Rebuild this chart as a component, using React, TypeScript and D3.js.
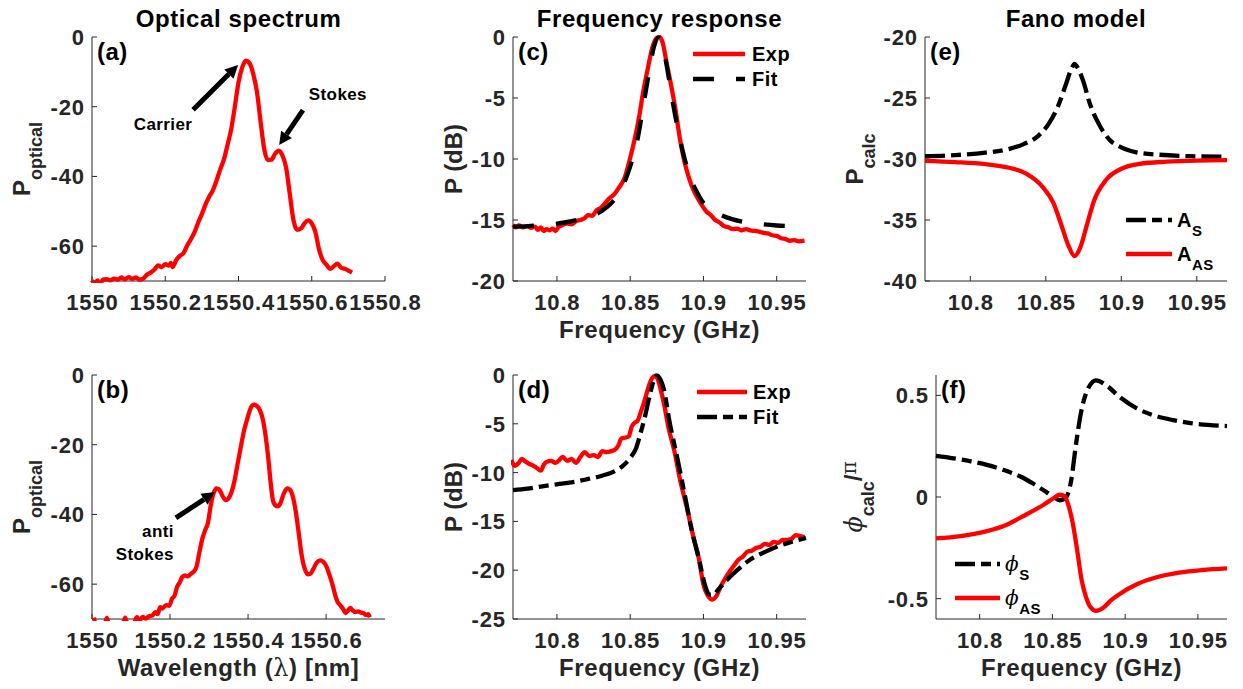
import React from "react";
import * as d3 from "d3";

type Pt = [number, number];

// ---------------- data ----------------
const opticalA: Pt[] = [
  [1550.0, -69.8], [1550.008, -70.8], [1550.015, -69.8], [1550.022, -71], [1550.03, -69.6], [1550.04, -69.5],
  [1550.05, -69.8], [1550.06, -69.3], [1550.07, -69.6], [1550.08, -69.0], [1550.09, -69.5], [1550.1, -68.9],
  [1550.11, -69.4], [1550.12, -69.0], [1550.13, -69.6], [1550.14, -69.3], [1550.15, -68.2], [1550.16, -67.6],
  [1550.17, -66.8], [1550.18, -65.5], [1550.19, -66.0], [1550.2, -65.2], [1550.21, -65.6], [1550.215, -64.8],
  [1550.22, -66.0], [1550.23, -64.0], [1550.24, -62.8], [1550.25, -62.0], [1550.26, -59.8], [1550.27, -58.0],
  [1550.28, -56.0], [1550.29, -53.2], [1550.3, -50.8], [1550.31, -48.0], [1550.32, -45.8], [1550.33, -44.0],
  [1550.34, -41.2], [1550.35, -38.0], [1550.36, -35.2], [1550.37, -31.0], [1550.38, -26.5], [1550.39, -20.0],
  [1550.4, -13.0], [1550.41, -8.8], [1550.42, -6.8], [1550.43, -7.5], [1550.44, -10.5], [1550.45, -15.5],
  [1550.46, -24.0], [1550.47, -32.0], [1550.48, -35.3], [1550.49, -35.2], [1550.5, -33.5], [1550.51, -32.6],
  [1550.52, -34.0], [1550.53, -37.5], [1550.54, -45.0], [1550.55, -52.5], [1550.56, -55.3], [1550.57, -55.0],
  [1550.58, -53.5], [1550.59, -52.6], [1550.6, -53.5], [1550.61, -56.0], [1550.62, -61.0], [1550.63, -64.0],
  [1550.64, -65.3], [1550.65, -66.5], [1550.66, -65.8], [1550.67, -65.0], [1550.68, -66.2], [1550.69, -66.5],
  [1550.7, -67.0], [1550.71, -67.6],
];

const opticalB: Pt[] = [
  [1550.005, -69.6], [1550.012, -72.5], [1550.03, -72.5], [1550.038, -69.7], [1550.046, -72.5], [1550.075, -72.5],
  [1550.085, -69.6], [1550.092, -72], [1550.108, -71], [1550.115, -69.5], [1550.122, -70.3], [1550.13, -69.4],
  [1550.138, -69.9], [1550.146, -69.2], [1550.155, -69.0], [1550.162, -68.0], [1550.168, -68.6], [1550.175, -66.6],
  [1550.18, -67.0], [1550.19, -66.0], [1550.198, -66.2], [1550.205, -64.2], [1550.212, -63.2], [1550.218, -60.8],
  [1550.225, -59.5], [1550.231, -58.0], [1550.238, -57.5], [1550.245, -57.8], [1550.252, -57.2], [1550.26, -56.5],
  [1550.268, -55.0], [1550.275, -51.0], [1550.282, -47.3], [1550.29, -44.5], [1550.297, -42.5], [1550.305, -37.0],
  [1550.312, -33.8], [1550.319, -32.5], [1550.327, -33.0], [1550.335, -34.8], [1550.343, -35.9], [1550.35, -35.4],
  [1550.357, -33.8], [1550.365, -30.5], [1550.372, -26.2], [1550.38, -21.5], [1550.39, -15.8], [1550.4, -11.8],
  [1550.408, -9.2], [1550.415, -8.5], [1550.422, -8.8], [1550.43, -10.0], [1550.438, -12.8], [1550.445, -17.5],
  [1550.452, -24.0], [1550.458, -31.0], [1550.465, -36.5], [1550.475, -37.7], [1550.483, -36.8], [1550.49, -34.5],
  [1550.5, -32.5], [1550.508, -33.0], [1550.515, -35.0], [1550.522, -39.0], [1550.53, -45.5], [1550.537, -51.5],
  [1550.545, -55.5], [1550.553, -57.2], [1550.56, -57.0], [1550.568, -55.5], [1550.576, -53.8], [1550.585, -53.2],
  [1550.593, -53.6], [1550.601, -55.0], [1550.609, -57.5], [1550.616, -60.0], [1550.623, -63.0], [1550.629, -65.0],
  [1550.636, -66.0], [1550.644, -67.2], [1550.65, -68.3], [1550.656, -67.6], [1550.662, -66.8], [1550.668, -67.5],
  [1550.675, -68.0], [1550.682, -67.8], [1550.69, -68.2], [1550.697, -68.4], [1550.703, -68.9], [1550.708, -68.6],
  [1550.712, -69.5],
];

const expC: Pt[] = [
  [10.77, -15.4], [10.772, -15.6], [10.774, -15.45], [10.777, -15.6], [10.78, -15.5], [10.782, -15.65],
  [10.785, -15.55], [10.787, -15.8], [10.789, -15.6], [10.791, -15.9], [10.793, -15.75], [10.795, -15.85],
  [10.797, -15.7], [10.799, -15.9], [10.801, -15.6], [10.804, -15.4], [10.807, -15.3], [10.81, -15.35],
  [10.813, -15.1], [10.816, -15.0], [10.819, -14.85], [10.821, -14.6], [10.824, -14.65], [10.827, -14.2],
  [10.83, -14.0], [10.833, -13.6], [10.836, -13.2], [10.839, -12.9], [10.842, -12.4], [10.846, -11.6],
  [10.85, -9.9], [10.853, -8.4], [10.856, -6.6], [10.859, -4.4], [10.862, -2.6], [10.865, -0.9],
  [10.868, -0.1], [10.87, 0], [10.872, -0.4], [10.875, -2.2], [10.878, -4.0], [10.881, -6.0],
  [10.884, -8.4], [10.887, -10.2], [10.89, -11.5], [10.893, -12.5], [10.896, -13.2], [10.899, -13.8],
  [10.902, -14.3], [10.905, -14.6], [10.908, -15.0], [10.911, -15.2], [10.914, -15.5], [10.917, -15.6],
  [10.92, -15.75], [10.923, -15.7], [10.926, -15.85], [10.929, -15.75], [10.932, -15.85], [10.935, -15.9],
  [10.938, -15.95], [10.941, -16.05], [10.944, -16.1], [10.947, -16.25], [10.95, -16.3], [10.953, -16.5],
  [10.956, -16.55], [10.959, -16.7], [10.962, -16.65], [10.965, -16.75], [10.969, -16.7],
];

const fitC: Pt[] = [
  [10.77, -15.55], [10.78, -15.5], [10.79, -15.4], [10.8, -15.3], [10.81, -15.1], [10.82, -14.8],
  [10.83, -14.3], [10.838, -13.5], [10.845, -12.2], [10.85, -10.6], [10.855, -8.4], [10.859, -5.6],
  [10.863, -2.8], [10.866, -0.9], [10.869, -0.05], [10.872, -0.6], [10.875, -2.4], [10.879, -5.3],
  [10.883, -7.8], [10.887, -9.9], [10.891, -11.5], [10.896, -12.8], [10.9, -13.6], [10.905, -14.1],
  [10.912, -14.6], [10.92, -14.95], [10.93, -15.2], [10.94, -15.35], [10.95, -15.45], [10.96, -15.5],
  [10.97, -15.55],
];

const expD: Pt[] = [
  [10.769, -8.7], [10.771, -9.3], [10.774, -9.0], [10.776, -8.6], [10.778, -8.8], [10.781, -9.1],
  [10.784, -9.3], [10.786, -9.5], [10.789, -9.8], [10.791, -9.2], [10.793, -8.9], [10.796, -8.8],
  [10.799, -9.0], [10.801, -8.8], [10.804, -8.4], [10.807, -8.8], [10.81, -8.6], [10.813, -9.0],
  [10.816, -8.4], [10.819, -7.9], [10.822, -8.3], [10.825, -8.2], [10.828, -8.4], [10.831, -7.8],
  [10.834, -7.9], [10.837, -7.8], [10.84, -7.6], [10.842, -7.2], [10.844, -6.5], [10.847, -6.4],
  [10.849, -6.3], [10.851, -5.3], [10.853, -4.9], [10.855, -4.7], [10.857, -3.9], [10.859, -3.0],
  [10.861, -2.0], [10.863, -1.0], [10.865, -0.3], [10.867, -0.1], [10.869, -0.5], [10.871, -1.6],
  [10.873, -2.9], [10.876, -5.3], [10.88, -7.7], [10.884, -10.7], [10.889, -13.8], [10.893, -16.5],
  [10.897, -18.9], [10.9, -21.5], [10.903, -22.6], [10.906, -23.0], [10.909, -22.6], [10.912, -21.6],
  [10.915, -20.8], [10.918, -20.1], [10.921, -19.5], [10.924, -18.9], [10.927, -18.6], [10.93, -18.1],
  [10.933, -18.0], [10.936, -17.7], [10.939, -17.6], [10.942, -17.3], [10.945, -17.4], [10.948, -17.1],
  [10.951, -17.2], [10.954, -16.9], [10.957, -16.9], [10.96, -16.8], [10.963, -16.4], [10.966, -16.5],
  [10.969, -16.6],
];

const fitD: Pt[] = [
  [10.77, -11.8], [10.78, -11.65], [10.79, -11.4], [10.8, -11.2], [10.81, -11.0], [10.82, -10.7],
  [10.83, -10.35], [10.84, -9.8], [10.845, -9.3], [10.85, -8.5], [10.854, -7.5], [10.857, -6.0],
  [10.86, -4.3], [10.863, -2.3], [10.866, -0.6], [10.868, -0.05], [10.87, -0.3], [10.873, -1.5],
  [10.877, -4.9], [10.882, -8.4], [10.887, -12.1], [10.892, -15.9], [10.897, -18.9], [10.901, -21.5],
  [10.904, -22.5], [10.907, -22.5], [10.91, -22.0], [10.916, -21.0], [10.923, -20.0], [10.932, -18.9],
  [10.941, -18.2], [10.95, -17.6], [10.96, -17.1], [10.97, -16.7],
];

const ampS: Pt[] = [
  [10.77, -29.77], [10.79, -29.68], [10.81, -29.48], [10.825, -29.2], [10.835, -28.8], [10.845, -28.1],
  [10.852, -27.1], [10.858, -25.7], [10.863, -24.0], [10.867, -22.6], [10.869, -22.2], [10.871, -22.5],
  [10.875, -23.7], [10.879, -25.4], [10.885, -27.1], [10.892, -28.4], [10.9, -29.05], [10.91, -29.45],
  [10.925, -29.65], [10.945, -29.77], [10.97, -29.82],
];

const ampAS: Pt[] = [
  [10.77, -30.15], [10.79, -30.25], [10.81, -30.42], [10.825, -30.7], [10.837, -31.2], [10.848, -32.3],
  [10.855, -33.6], [10.86, -35.3], [10.865, -37.1], [10.869, -37.95], [10.873, -37.2], [10.877, -35.5],
  [10.882, -33.4], [10.89, -31.7], [10.9, -30.8], [10.912, -30.4], [10.93, -30.22], [10.95, -30.13],
  [10.97, -30.1],
];

const phaseS: Pt[] = [
  [10.77, 0.202], [10.782, 0.19], [10.794, 0.175], [10.805, 0.158], [10.816, 0.134], [10.828, 0.101],
  [10.837, 0.065], [10.844, 0.033], [10.851, 0.0], [10.855, -0.016], [10.859, -0.005], [10.863, 0.085],
  [10.866, 0.248], [10.87, 0.427], [10.875, 0.54], [10.88, 0.574], [10.887, 0.55], [10.896, 0.493],
  [10.908, 0.436], [10.919, 0.403], [10.933, 0.378], [10.946, 0.362], [10.97, 0.349],
];

const phaseAS: Pt[] = [
  [10.77, -0.204], [10.787, -0.192], [10.805, -0.168], [10.819, -0.135], [10.832, -0.086], [10.844, -0.038],
  [10.851, -0.005], [10.855, 0.011], [10.858, 0.005], [10.861, -0.04], [10.864, -0.13], [10.867, -0.26],
  [10.87, -0.405], [10.873, -0.49], [10.876, -0.54], [10.88, -0.56], [10.885, -0.545], [10.89, -0.51],
  [10.896, -0.478], [10.908, -0.429], [10.921, -0.396], [10.937, -0.372], [10.953, -0.359], [10.97, -0.351],
];

const xTicksOptA = [1550, 1550.2, 1550.4, 1550.6, 1550.8];
const xTicksOptB = [1550, 1550.2, 1550.4, 1550.6];
const yTicksOpt = [0, -20, -40, -60];
const xTicksFreq = [10.8, 10.85, 10.9, 10.95];
const yTicksC = [0, -5, -10, -15, -20];
const yTicksD = [0, -5, -10, -15, -20, -25];
const yTicksE = [-20, -25, -30, -35, -40];
const yTicksF = [0.5, 0, -0.5];
const columnTitles = ["Optical spectrum", "Frequency response", "Fano model"];
const panelLabels = ["(a)", "(b)", "(c)", "(d)", "(e)", "(f)"];
const legendC = ["Exp", "Fit"];

// ---------------- styling ----------------
const FONT = '"Liberation Sans", Arial, Helvetica, sans-serif';
const SERIF = '"DejaVu Serif", "Liberation Serif", serif';
const AXC = "#262626";
const RED = "#ff0000";
const BLK = "#000000";
const DASH = "21,22";
const DASHDOT = "20,6,10,6";
const LW = 4.3;
const LS = 0.8;

type Seg = { t: string; size?: number; bold?: boolean; italic?: boolean; serif?: boolean; off?: number };

function Rich({ segs, base }: { segs: Seg[]; base: number }) {
  let prev = 0;
  return (
    <>
      {segs.map((s, i) => {
        const off = s.off ?? 0;
        const dy = off - prev;
        prev = off;
        return (
          <tspan
            key={i}
            dy={dy}
            fontSize={s.size ?? base}
            fontWeight={s.bold === false ? "normal" : "bold"}
            fontStyle={s.italic ? "italic" : "normal"}
            fontFamily={s.serif ? SERIF : FONT}
          >
            {s.t}
          </tspan>
        );
      })}
    </>
  );
}

type Series = { data: Pt[]; color: string; dash?: string };
type Annot = { text: string[]; tx: number; ty: number; lineGap: number; anchor: string; from: Pt; to: Pt };
type LegendItem = { label: Seg[]; color: string; dash?: string };
type Legend = { x0: number; x1: number; tx: number; ys: number[]; items: LegendItem[] };

type PanelProps = {
  id: string;
  left: number;
  right: number;
  top: number;
  bottom: number;
  xDomain: [number, number];
  yDomain: [number, number];
  xTicks: number[];
  yTicks: number[];
  series: Series[];
  label: string;
  title?: string;
  xlabel?: Seg[];
  ylabel: Seg[];
  ylabelOffset: number;
  legend?: Legend;
  annots?: Annot[];
};

const fmt = (v: number) => String(+v.toFixed(3));

function Arrow({ x1, y1, x2, y2 }: { x1: number; y1: number; x2: number; y2: number }) {
  const ang = Math.atan2(y2 - y1, x2 - x1);
  const hl = 13;
  const hw = 6.5;
  const bx = x2 - hl * Math.cos(ang);
  const by = y2 - hl * Math.sin(ang);
  const px = -Math.sin(ang);
  const py = Math.cos(ang);
  return (
    <g>
      <line x1={x1} y1={y1} x2={bx} y2={by} stroke={BLK} strokeWidth={5} />
      <polygon
        points={`${x2},${y2} ${bx + px * hw},${by + py * hw} ${bx - px * hw},${by - py * hw}`}
        fill={BLK}
      />
    </g>
  );
}

function Panel(p: PanelProps) {
  const x = d3.scaleLinear().domain(p.xDomain).range([p.left, p.right]);
  const y = d3.scaleLinear().domain(p.yDomain).range([p.bottom, p.top]);
  const line = d3
    .line<Pt>()
    .x((d) => x(d[0]))
    .y((d) => y(d[1]))
    .curve(d3.curveMonotoneX);
  const clipId = `clip-${p.id}`;
  const cx = (p.left + p.right) / 2;
  const cy = (p.top + p.bottom) / 2;
  return (
    <g>
      <defs>
        <clipPath id={clipId}>
          <rect x={p.left - 2} y={p.top - 2} width={p.right - p.left + 4} height={p.bottom - p.top + 4} />
        </clipPath>
      </defs>
      {/* axes */}
      <line x1={p.left} y1={p.top} x2={p.left} y2={p.bottom} stroke={AXC} strokeWidth={1} />
      <line x1={p.left} y1={p.bottom} x2={p.right} y2={p.bottom} stroke={AXC} strokeWidth={1} />
      {p.xTicks.map((t) => (
        <g key={`xt${t}`}>
          <line x1={x(t)} x2={x(t)} y1={p.bottom} y2={p.bottom - 5} stroke={AXC} strokeWidth={1} />
          <text x={x(t) + LS / 2} y={p.bottom + 29} textAnchor="middle" fontSize={22} fontWeight="bold" fill={AXC} letterSpacing={LS}>
            {fmt(t)}
          </text>
        </g>
      ))}
      {p.yTicks.map((t) => (
        <g key={`yt${t}`}>
          <line x1={p.left} x2={p.left + 5} y1={y(t)} y2={y(t)} stroke={AXC} strokeWidth={1} />
          <text x={p.left - 8 + LS} y={y(t)} dy="0.36em" textAnchor="end" fontSize={22} fontWeight="bold" fill={AXC} letterSpacing={LS}>
            {fmt(t)}
          </text>
        </g>
      ))}
      {/* data */}
      <g clipPath={`url(#${clipId})`}>
        {p.series.map((s, i) => (
          <path
            key={i}
            d={line(s.data) || ""}
            fill="none"
            stroke={s.color}
            strokeWidth={LW}
            strokeDasharray={s.dash}
            strokeLinejoin="round"
          />
        ))}
      </g>
      {/* panel label */}
      <text x={p.left + 5} y={p.top + 23} fontSize={24} fontWeight="bold" fill={BLK} letterSpacing={0.5}>
        {p.label}
      </text>
      {p.title && (
        <text x={cx} y={p.top - 10} textAnchor="middle" fontSize={24} fontWeight="bold" fill={BLK} letterSpacing={0.6}>
          {p.title}
        </text>
      )}
      {p.xlabel && (
        <text x={cx} y={p.bottom + 57} textAnchor="middle" fontSize={24} fill={AXC} letterSpacing={0.6}>
          <Rich segs={p.xlabel} base={24} />
        </text>
      )}
      <text
        transform={`translate(${p.left - p.ylabelOffset},${cy}) rotate(-90)`}
        textAnchor="middle"
        fontSize={24}
        fill={AXC}
      >
        <Rich segs={p.ylabel} base={24} />
      </text>
      {p.legend &&
        p.legend.items.map((it, i) => (
          <g key={`lg${i}`}>
            <line
              x1={p.legend!.x0}
              x2={p.legend!.x1}
              y1={p.legend!.ys[i]}
              y2={p.legend!.ys[i]}
              stroke={it.color}
              strokeWidth={LW}
              strokeDasharray={it.dash}
            />
            <text x={p.legend!.tx} y={p.legend!.ys[i] + 7} fontSize={20} fill={BLK} letterSpacing={0.5}>
              <Rich segs={it.label} base={20} />
            </text>
          </g>
        ))}
      {p.annots &&
        p.annots.map((a, i) => (
          <g key={`an${i}`}>
            <Arrow x1={x(a.from[0])} y1={y(a.from[1])} x2={x(a.to[0])} y2={y(a.to[1])} />
            {a.text.map((t, j) => (
              <text
                key={j}
                x={x(a.tx)}
                y={y(a.ty) + j * a.lineGap}
                textAnchor={a.anchor as any}
                fontSize={17}
                fontWeight="bold"
                fill={BLK}
                letterSpacing={0.4}
              >
                {t}
              </text>
            ))}
          </g>
        ))}
    </g>
  );
}

export default function App() {
  const rowTop = [37, 375];
  const rowBot = [281, 619];
  const freqDom: [number, number] = [10.77, 10.97];
  const freqLabel: Seg[] = [{ t: "Frequency (GHz)" }];
  const pOptical: Seg[] = [{ t: "P" }, { t: "optical", size: 18, off: 12 }];
  const pdB: Seg[] = [{ t: "P (dB)" }];
  const pCalc: Seg[] = [{ t: "P" }, { t: "calc", size: 18, off: 12 }];
  const phiLabel: Seg[] = [
    { t: "\u03D5", serif: true, italic: true, bold: false, size: 24 },
    { t: "calc", size: 18, off: 12 },
    { t: "/", size: 24, off: 0 },
    { t: "\u03C0", serif: true, bold: false, size: 20, off: -6 },
  ];
  const wlLabel: Seg[] = [
    { t: "Wavelength (" },
    { t: "\u03BB", serif: true, bold: false },
    { t: ") [nm]" },
  ];

  return (
    <svg
      width={1243}
      height={689}
      style={{ position: "absolute", left: 0, top: 0, background: "#fff" }}
      fontFamily={FONT}
    >
      <rect x={0} y={0} width={1243} height={689} fill="#fff" />
      <Panel
        id="a"
        left={92}
        right={385}
        top={rowTop[0]}
        bottom={rowBot[0]}
        xDomain={[1550, 1550.8]}
        yDomain={[-70, 0]}
        xTicks={xTicksOptA}
        yTicks={yTicksOpt}
        series={[{ data: opticalA, color: RED }]}
        label={panelLabels[0]}
        title={columnTitles[0]}
        ylabel={pOptical}
        ylabelOffset={62}
        annots={[
          { text: ["Carrier"], tx: 1550.274, ty: -26.7, lineGap: 0, anchor: "end", from: [1550.276, -20.9], to: [1550.399, -8.0] },
          { text: ["Stokes"], tx: 1550.592, ty: -18.1, lineGap: 0, anchor: "start", from: [1550.576, -21.0], to: [1550.511, -31.0] },
        ]}
      />
      <Panel
        id="b"
        left={92}
        right={385}
        top={rowTop[1]}
        bottom={rowBot[1]}
        xDomain={[1550, 1550.751]}
        yDomain={[-70, 0]}
        xTicks={xTicksOptB}
        yTicks={yTicksOpt}
        series={[{ data: opticalB, color: RED }]}
        label={panelLabels[1]}
        xlabel={wlLabel}
        ylabel={pOptical}
        ylabelOffset={62}
        annots={[
          { text: ["anti", "Stokes"], tx: 1550.21, ty: -46.5, lineGap: 23, anchor: "end", from: [1550.215, -41.0], to: [1550.315, -33.6] },
        ]}
      />
      <Panel
        id="c"
        left={513}
        right={806}
        top={rowTop[0]}
        bottom={rowBot[0]}
        xDomain={freqDom}
        yDomain={[-20, 0]}
        xTicks={xTicksFreq}
        yTicks={yTicksC}
        series={[
          { data: expC, color: RED },
          { data: fitC, color: BLK, dash: DASH },
        ]}
        label={panelLabels[2]}
        title={columnTitles[1]}
        xlabel={freqLabel}
        ylabel={pdB}
        ylabelOffset={51}
        legend={{
          x0: 693,
          x1: 745,
          tx: 752,
          ys: [54, 79],
          items: [
            { label: [{ t: legendC[0] }], color: RED },
            { label: [{ t: legendC[1] }], color: BLK, dash: DASH },
          ],
        }}
      />
      <Panel
        id="d"
        left={513}
        right={806}
        top={rowTop[1]}
        bottom={rowBot[1]}
        xDomain={freqDom}
        yDomain={[-25, 0]}
        xTicks={xTicksFreq}
        yTicks={yTicksD}
        series={[
          { data: expD, color: RED },
          { data: fitD, color: BLK, dash: DASHDOT },
        ]}
        label={panelLabels[3]}
        xlabel={freqLabel}
        ylabel={pdB}
        ylabelOffset={51}
        legend={{
          x0: 697,
          x1: 747,
          tx: 753,
          ys: [392, 417],
          items: [
            { label: [{ t: legendC[0] }], color: RED },
            { label: [{ t: legendC[1] }], color: BLK, dash: DASHDOT },
          ],
        }}
      />
      <Panel
        id="e"
        left={925}
        right={1227}
        top={rowTop[0]}
        bottom={rowBot[0]}
        xDomain={freqDom}
        yDomain={[-40, -20]}
        xTicks={xTicksFreq}
        yTicks={yTicksE}
        series={[
          { data: ampS, color: BLK, dash: DASHDOT },
          { data: ampAS, color: RED },
        ]}
        label={panelLabels[4]}
        title={columnTitles[2]}
        ylabel={pCalc}
        ylabelOffset={62}
        legend={{
          x0: 1126,
          x1: 1172,
          tx: 1177,
          ys: [220, 254],
          items: [
            { label: [{ t: "A" }, { t: "S", size: 15, off: 9 }], color: BLK, dash: DASHDOT },
            { label: [{ t: "A" }, { t: "AS", size: 15, off: 9 }], color: RED },
          ],
        }}
      />
      <Panel
        id="f"
        left={936}
        right={1227}
        top={rowTop[1]}
        bottom={rowBot[1]}
        xDomain={freqDom}
        yDomain={[-0.6, 0.6]}
        xTicks={xTicksFreq}
        yTicks={yTicksF}
        series={[
          { data: phaseS, color: BLK, dash: DASHDOT },
          { data: phaseAS, color: RED },
        ]}
        label={panelLabels[5]}
        xlabel={freqLabel}
        ylabel={phiLabel}
        ylabelOffset={74}
        legend={{
          x0: 955,
          x1: 1000,
          tx: 1005,
          ys: [564, 598],
          items: [
            {
              label: [
                { t: "\u03D5", serif: true, italic: true, bold: false },
                { t: "S", size: 15, off: 9 },
              ],
              color: BLK,
              dash: DASHDOT,
            },
            {
              label: [
                { t: "\u03D5", serif: true, italic: true, bold: false },
                { t: "AS", size: 15, off: 9 },
              ],
              color: RED,
            },
          ],
        }}
      />
    </svg>
  );
}
